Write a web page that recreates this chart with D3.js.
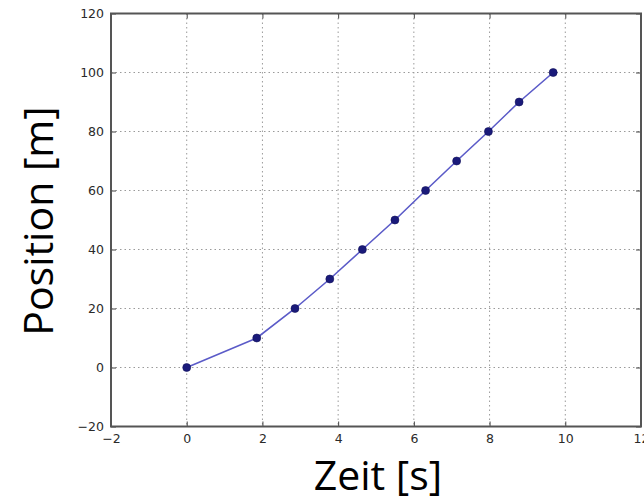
<!DOCTYPE html>
<html><head><meta charset="utf-8">
<script src="https://cdn.jsdelivr.net/npm/d3@7"></script>
<style>body{margin:0;background:#fff;} svg{display:block;}</style>
</head><body>
<script>
const timeValues = [0, 1.85, 2.86, 3.78, 4.64, 5.50, 6.31, 7.13, 7.97, 8.78, 9.68];
const positionValues = [0, 10, 20, 30, 40, 50, 60, 70, 80, 90, 100];
const xTicks = [-2, 0, 2, 4, 6, 8, 10, 12];
const yTicks = [-20, 0, 20, 40, 60, 80, 100, 120];
const xLabel = "Zeit [s]";
const yLabel = "Position [m]";

const W = 644, H = 503;
const L = 111, R = 641, T = 13.5, B = 426.5;
const svg = d3.select("body").append("svg").attr("width", W).attr("height", H);
const x = d3.scaleLinear().domain([-2, 12]).range([L, R]);
const y = d3.scaleLinear().domain([-20, 120]).range([B, T]);

// grid
const g = svg.append("g");
g.selectAll(".vg").data(xTicks.slice(1, -1)).enter().append("line")
  .attr("x1", d => x(d)).attr("x2", d => x(d)).attr("y1", T).attr("y2", B)
  .attr("stroke", "#9a9a9a").attr("stroke-width", 1).attr("stroke-dasharray", "1.5,3");
g.selectAll(".hg").data(yTicks.slice(1, -1)).enter().append("line")
  .attr("y1", d => y(d)).attr("y2", d => y(d)).attr("x1", L).attr("x2", R)
  .attr("stroke", "#9a9a9a").attr("stroke-width", 1).attr("stroke-dasharray", "1.5,3");

// axes with inward ticks
const fmt = d => d < 0 ? "\u2212" + Math.abs(d) : d;
const xAxisB = d3.axisBottom(x).tickValues(xTicks).tickFormat(fmt).tickSizeInner(-5).tickSizeOuter(0).tickPadding(8);
const xAxisT = d3.axisTop(x).tickValues(xTicks).tickFormat("").tickSizeInner(-5).tickSizeOuter(0);
const yAxisL = d3.axisLeft(y).tickValues(yTicks).tickFormat(fmt).tickSizeInner(-5).tickSizeOuter(0).tickPadding(7);
const yAxisR = d3.axisRight(y).tickValues(yTicks).tickFormat("").tickSizeInner(-5).tickSizeOuter(0);

function style(sel) {
  sel.select(".domain").remove();
  sel.selectAll(".tick line").attr("stroke", "#444").attr("stroke-width", 1);
  sel.selectAll("text").attr("fill", "#2a2a2a").style("font-family", "DejaVu Sans").style("font-size", "12.5px");
}
svg.append("g").attr("transform", `translate(0,${B})`).call(xAxisB).call(style);
svg.append("g").attr("transform", `translate(0,${T})`).call(xAxisT).call(style);
svg.append("g").attr("transform", `translate(${L},0)`).call(yAxisL).call(style);
svg.append("g").attr("transform", `translate(${R},0)`).call(yAxisR).call(style);

svg.append("rect").attr("x", L).attr("y", T).attr("width", R - L).attr("height", B - T)
  .attr("fill", "none").attr("stroke", "#555").attr("stroke-width", 2);

// line + markers
const data = timeValues.map((t, i) => ({ t, p: positionValues[i] }));
svg.append("path").datum(data)
  .attr("d", d3.line().x(d => x(d.t)).y(d => y(d.p)))
  .attr("fill", "none").attr("stroke", "#5b5bc8").attr("stroke-width", 1.6);
svg.selectAll(".pt").data(data).enter().append("circle")
  .attr("cx", d => x(d.t)).attr("cy", d => y(d.p)).attr("r", 4)
  .attr("fill", "#1a1a7a").attr("stroke", "#10105a").attr("stroke-width", 0.6);

// labels
svg.append("text").attr("x", 378).attr("y", 490).attr("text-anchor", "middle")
  .style("font-family", "Open Sans").style("font-size", "41px").attr("fill", "#000").text(xLabel);
svg.append("text").attr("transform", "translate(53,221) rotate(-90)").attr("text-anchor", "middle")
  .style("font-family", "Open Sans").style("font-size", "41px").attr("fill", "#000").text(yLabel);
</script>
</body></html>
